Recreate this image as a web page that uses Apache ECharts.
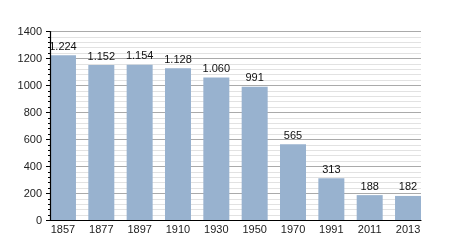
<!DOCTYPE html>
<html><head><meta charset="utf-8">
<script src="https://cdn.jsdelivr.net/npm/echarts@6/dist/echarts.min.js"></script>
<style>html,body{margin:0;padding:0;background:#fff}#c{width:450px;height:250px}</style>
</head><body><div id="c"></div>
<script>
var years = ['1857','1877','1897','1910','1930','1950','1970','1991','2011','2013'];
var population = [1224, 1152, 1154, 1128, 1060, 991, 565, 313, 188, 182];
var yTicks = [0, 200, 400, 600, 800, 1000, 1200, 1400];

var chart = echarts.init(document.getElementById('c'), null, {renderer: 'canvas'});
var font = 'Liberation Sans, Arial, sans-serif';
function fmt(v){ return String(v).replace(/\B(?=(\d{3})+(?!\d))/g, '.'); }
var yMin = yTicks[0], yMax = yTicks[yTicks.length-1];
chart.setOption({
  animation: false,
  grid: [
    {left: 50, right: 29, top: 31.5, bottom: 29.5},
    {left: 43.8, right: 22.8, top: 31.5, bottom: 29.5}
  ],
  xAxis: [
    {type: 'category', gridIndex: 0, data: years, axisLabel: {show: false}, axisTick: {show: false},
     axisLine: {lineStyle: {color: '#000', width: 1.2}}, splitLine: {show: false}, zlevel: 2},
    {type: 'category', gridIndex: 1, data: years, axisLine: {show: false}, axisTick: {show: false},
     axisLabel: {color: '#222', fontFamily: font, fontSize: 11, margin: 4}}
  ],
  yAxis: [
    {type: 'value', gridIndex: 0, min: yMin, max: yMax, interval: 200, zlevel: 0,
     axisLine: {show: false}, axisTick: {show: false}, axisLabel: {show: false},
     minorTick: {show: false, splitNumber: 5},
     splitLine: {show: true, lineStyle: {color: '#aaaaaa', width: 1}},
     minorSplitLine: {show: true, lineStyle: {color: '#e2e2e2', width: 1}}},
    {type: 'value', gridIndex: 1, min: yMin, max: yMax, show: false},
    {type: 'value', gridIndex: 0, position: 'left', min: yMin, max: yMax, interval: 200, zlevel: 2,
     axisLine: {show: true, lineStyle: {color: '#000', width: 1.2}},
     axisTick: {show: true, length: 4, lineStyle: {color: '#000'}},
     minorTick: {show: true, splitNumber: 5, length: 2, lineStyle: {color: '#000'}},
     splitLine: {show: false}, minorSplitLine: {show: false},
     axisLabel: {color: '#222', fontFamily: font, fontSize: 11, margin: 8,
                 formatter: function(v){ return String(v); }}}
  ],
  series: [{
    type: 'bar', xAxisIndex: 1, yAxisIndex: 1, data: population, barWidth: 26,
    itemStyle: {color: '#98b2cf'}, zlevel: 1,
    label: {show: true, position: 'top', distance: 3, color: '#111', fontFamily: font, fontSize: 11,
            formatter: function(p){ return fmt(p.value); }}
  }]
});
</script></body></html>
